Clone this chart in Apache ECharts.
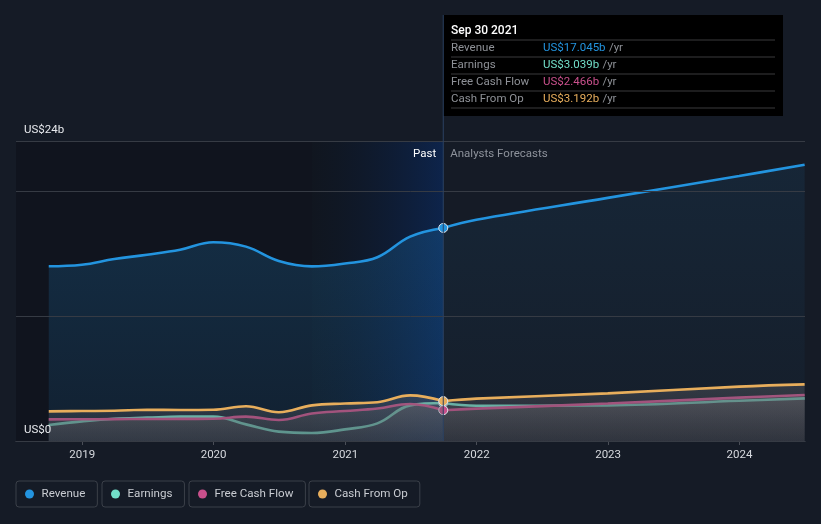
<!DOCTYPE html>
<html><head><meta charset="utf-8">
<script src="https://cdn.jsdelivr.net/npm/echarts@6/dist/echarts.min.js"></script>
<style>html,body{margin:0;padding:0;background:#151b26;}#c{width:821px;height:524px;}</style>
</head><body><div id="c"></div><script>
// ---- data ----
const pastDates = ['2018-09-30','2018-12-31','2019-03-31','2019-06-30','2019-09-30','2019-12-31','2020-03-31','2020-06-30','2020-09-30','2020-12-31','2021-03-31','2021-06-30','2021-09-30'];
const revenuePast = [13.98, 14.1, 14.56, 14.9, 15.3, 15.9, 15.55, 14.4, 13.97, 14.2, 14.7, 16.35, 17.045];
const earningsPast = [1.28, 1.57, 1.78, 1.87, 1.95, 1.95, 1.33, 0.75, 0.64, 0.93, 1.41, 2.85, 3.039];
const fcfPast = [1.73, 1.74, 1.75, 1.76, 1.77, 1.78, 1.95, 1.68, 2.2, 2.4, 2.6, 2.96, 2.466];
const cfoPast = [2.37, 2.4, 2.42, 2.5, 2.48, 2.5, 2.78, 2.3, 2.85, 3.0, 3.1, 3.65, 3.192];
const forecastDates = ['2021-09-30','2021-12-31','2022-12-31','2023-12-31','2024-06-30'];
const revenueFc = [17.045, 17.7, 19.45, 21.2, 22.1];
const earningsFc = [3.039, 2.82, 2.85, 3.22, 3.41];
const fcfFc = [2.466, 2.59, 3.0, 3.47, 3.68];
const cfoFc = [3.192, 3.39, 3.81, 4.35, 4.53];
const seriesNames = ['Revenue','Earnings','Free Cash Flow','Cash From Op'];
const seriesColors = ['#2394df','#72dfc9','#c9508c','#e8ae5c'];
const yearTicks = ['2019','2020','2021','2022','2023','2024'];
const yLabelValues = [0, 24];
const yLabelTexts = ['US$0', 'US$24b'];
const xRange = ['2018-07-01', '2024-07-01'];
const pastStart = '2020-09-30';
const splitDate = '2021-09-30';
const tooltipTitle = 'Sep 30 2021';

// ---- helpers ----
function ts(s){const p=s.split('-').map(Number);return Date.UTC(p[0],p[1]-1,p[2]);}
const xMin = ts(xRange[0]), xMax = ts(xRange[1]);
const yearVals = yearTicks.map(y=>Date.UTC(+y,0,1));
function pairs(dates, vals, dotColor){
  return vals.map((v,i)=>{
    const item = {value:[ts(dates[i]), v]};
    if (dotColor && i === vals.length-1) {
      item.symbol = 'circle'; item.symbolSize = 9;
      item.itemStyle = {color: dotColor, borderColor:'#dfe3ea', borderWidth:1};
    }
    return item;
  });
}
function vgrad(a,b){return new echarts.graphic.LinearGradient(0,0,0,1,[{offset:0,color:a},{offset:1,color:b}]);}
const pastSets = [revenuePast, earningsPast, fcfPast, cfoPast];
const fcSets = [revenueFc, earningsFc, fcfFc, cfoFc];

const series = [];
seriesNames.forEach((name, k)=>{
  const isRev = k === 0;
  const base = {
    name, type:'line', smooth:0.4, symbol:'none', showSymbol:true,
    lineStyle:{color:seriesColors[k], width: 2.6},
    itemStyle:{color:seriesColors[k]},
    emphasis:{disabled:true}
  };
  const past = Object.assign({}, base, {
    z: 3 + k,
    data: pairs(pastDates, pastSets[k], seriesColors[k]),
    areaStyle: isRev ? {color: vgrad('rgba(35,148,223,0.28)','rgba(35,148,223,0.14)'), origin:'start'}
                     : {color: vgrad('rgba(100,100,106,0.55)','rgba(70,72,80,0.4)'), origin:'start'}
  });
  if (isRev) {
    past.markArea = {
      silent:true,
      data:[
        [{xAxis:xMin, itemStyle:{color:'rgba(6,8,12,0.3)'}}, {xAxis:ts(pastStart)}],
        [{xAxis:ts(pastStart), itemStyle:{color:new echarts.graphic.LinearGradient(0,0,1,0,[{offset:0,color:'rgba(6,10,16,0.3)'},{offset:1,color:'rgba(8,42,100,0.6)'}])},
          label:{show:true, position:'insideTopRight', formatter:'Past', color:'#ffffff', fontSize:11.5, distance:7}}, {xAxis:ts(splitDate)}],
        [{xAxis:ts(splitDate), itemStyle:{color:'rgba(0,0,0,0)'},
          label:{show:true, position:'insideTopLeft', formatter:'Analysts Forecasts', color:'#8d929b', fontSize:11.5, distance:7}}, {xAxis:xMax}]
      ]
    };
  }
  series.push(past);
  series.push(Object.assign({}, base, {
    data: pairs(forecastDates, fcSets[k], null),
    z: 2 + k,
    areaStyle: isRev ? {color: vgrad('rgba(35,148,223,0.13)','rgba(35,148,223,0.03)'), origin:'start'}
                     : {color: vgrad('rgba(100,100,106,0.55)','rgba(64,66,74,0.4)'), origin:'start'}
  }));
});

const legendLefts = [16, 102, 189, 309];
const legends = seriesNames.map((n,i)=>({
  data:[n], left:legendLefts[i], top:481, orient:'horizontal',
  padding:[6,12,6,9], itemWidth:14, itemHeight:9, itemGap:0, icon:'circle',
  borderColor:'#3b4049', borderWidth:1, borderRadius:3, selectedMode:false,
  textStyle:{color:'#c9ccd2', fontSize:11.6, lineHeight:14, fontFamily:'Roboto'}
}));

const chart = echarts.init(document.getElementById('c'), null, {renderer:'canvas'});
chart.setOption({
  animation:false,
  backgroundColor:'#151b26',
  textStyle:{fontFamily:'Roboto'},
  grid:{left:16, right:16, top:141, bottom:83, containLabel:false},
  legend: legends,
  xAxis:{
    type:'value', min:xMin, max:xMax, scale:true,
    axisLine:{show:true, lineStyle:{color:'#4a4e57', width:1}},
    axisTick:{show:true, length:4, lineStyle:{color:'#4a4e57'}, customValues: yearVals},
    axisLabel:{color:'#d6d9de', fontSize:11.5, margin:8, customValues: yearVals,
      formatter:(v)=>{const i=yearVals.indexOf(v);return i>=0?yearTicks[i]:'';}},
    splitLine:{show:false}
  },
  yAxis:{
    type:'value', min:0, max:24, interval:10, z:10,
    axisLine:{show:false}, axisTick:{show:false},
    splitLine:{show:true, lineStyle:{color:'#363b44', width:1}},
    axisLabel:{inside:true, margin:8, color:'#e8eaee', fontSize:11.5, verticalAlign:'bottom', padding:[0,0,5,0],
      formatter:(v)=>{const i=yLabelValues.indexOf(v);return i>=0?yLabelTexts[i]:'';}}
  },
  series
});

// tooltip-like info box and crosshair
const px = chart.convertToPixel({xAxisIndex:0}, ts(splitDate));
const box = {x:443, y:15, w:340, h:101};
const g = [];
g.push({type:'line', shape:{x1:px, y1:box.y, x2:px, y2:441}, style:{stroke:'#2b4263', lineWidth:1}, z:50});
const kids = [];
kids.push({type:'rect', shape:{x:0,y:0,width:box.w,height:box.h}, style:{fill:'#000000'}});
kids.push({type:'text', x:8, y:16, style:{text:tooltipTitle, fill:'#ffffff', font:'500 12px Roboto', verticalAlign:'middle'}});
const lastVals = pastSets.map(a=>a[a.length-1]);
for (let i=0;i<5;i++){
  kids.push({type:'line', shape:{x1:8, y1:25+17*i, x2:332, y2:25+17*i}, style:{stroke:'#3a3a3c', lineWidth:1}});
}
seriesNames.forEach((n,i)=>{
  const yy = 33.5 + 17*i;
  kids.push({type:'text', x:8, y:yy, style:{text:n, fill:'#8e9197', font:'11.5px Roboto', verticalAlign:'middle'}});
  kids.push({type:'text', x:100, y:yy, style:{
    text:'{v|US$'+lastVals[i].toFixed(3)+'b} {u|/yr}', verticalAlign:'middle',
    rich:{v:{fill:seriesColors[i], font:'11.5px Roboto'}, u:{fill:'#8e9197', font:'11.5px Roboto'}}
  }});
});
g.push({type:'group', x:box.x, y:box.y, z:60, children:kids});
chart.setOption({graphic:g});
</script></body></html>
